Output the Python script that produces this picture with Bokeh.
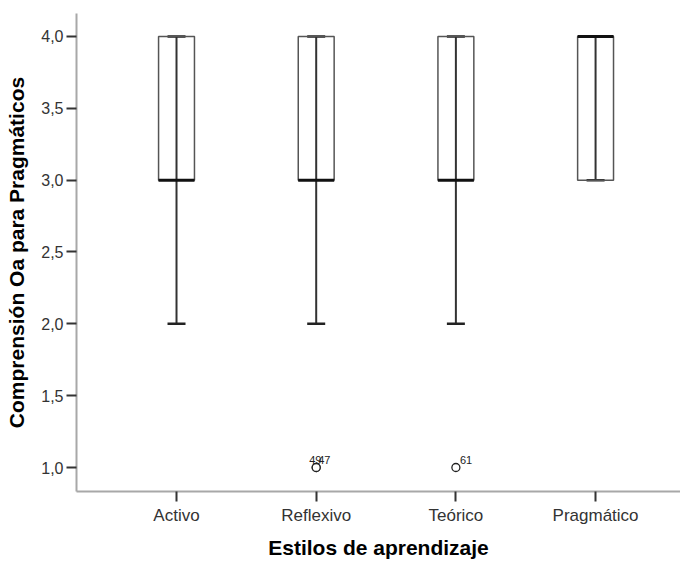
from bokeh.plotting import figure
from bokeh.models import (ColumnDataSource, Range1d, FixedTicker, CustomJSTickFormatter,
                          Whisker, TeeHead)
from bokeh.core.properties import value
from bokeh.embed import file_html
from bokeh.resources import INLINE

# ---- data ----
categories = ["Activo", "Reflexivo", "Teórico", "Pragmático"]
q1 = [3.0, 3.0, 3.0, 3.0]
median = [3.0, 3.0, 3.0, 4.0]
q3 = [4.0, 4.0, 4.0, 4.0]
whisker_low = [2.0, 2.0, 2.0, 3.0]
whisker_high = [4.0, 4.0, 4.0, 4.0]

outlier_category = ["Reflexivo", "Reflexivo", "Teórico"]
outlier_value = [1.0, 1.0, 1.0]
outlier_label = ["49", "47", "61"]

y_ticks = [1.0, 1.5, 2.0, 2.5, 3.0, 3.5, 4.0]

# ---- build ----
xpos = [categories.index(c) + 1 for c in categories]
src = ColumnDataSource(dict(x=xpos, q1=q1, med=median, q3=q3, lo=whisker_low, hi=whisker_high))

ox = [categories.index(c) + 1 for c in outlier_category]
# label offsets: SPSS spreads labels of coincident points
dx = []
for i, c in enumerate(outlier_category):
    n = outlier_category.count(c)
    k = outlier_category[:i].count(c)
    dx.append(4 if n == 1 else -7 + 9 * k)
osrc = ColumnDataSource(dict(x=ox, y=outlier_value, t=outlier_label, dx=dx))

FONT = "Liberation Sans"

p = figure(width=680, height=561, output_backend="svg", toolbar_location=None,
           x_range=Range1d(0.284, 4.608), y_range=Range1d(0.833, 4.16),
           min_border_left=76, min_border_right=0, min_border_top=13, min_border_bottom=70)
p.outline_line_color = None
p.xgrid.grid_line_color = None
p.ygrid.grid_line_color = None
p.background_fill_color = "white"
p.border_fill_color = "white"

# boxes
p.vbar(x="x", width=0.257, bottom="q1", top="q3", source=src,
       fill_color=None, line_color="#555555", line_width=1.5)

# whiskers (line through the box, with caps)
w = Whisker(base="x", lower="lo", upper="hi", source=src, dimension="height",
            line_color="#333333", line_width=2,
            lower_head=TeeHead(size=18, line_color="#222222", line_width=2.5),
            upper_head=TeeHead(size=18, line_color="#222222", line_width=2.5))
p.add_layout(w)

# medians
p.scatter(x="x", y="med", source=src, marker="dash", size=36,
          line_color="#111111", line_width=3)

# outliers
p.scatter(x="x", y="y", source=osrc, marker="circle", size=8,
          fill_color="white", line_color="#222222", line_width=1.3)
p.text(x="x", y="y", text="t", source=osrc, x_offset="dx", y_offset=-4,
       text_baseline="bottom", text_align="left", text_font=value(FONT),
       text_font_size="11px", text_color="#222222")

# axes
p.xaxis.ticker = FixedTicker(ticks=xpos)
p.xaxis.major_label_overrides = {i + 1: c for i, c in enumerate(categories)}
p.yaxis.ticker = FixedTicker(ticks=y_ticks)
p.yaxis.formatter = CustomJSTickFormatter(code="return tick.toFixed(1).replace('.', ',');")
p.xaxis.axis_label = "Estilos de aprendizaje"
p.yaxis.axis_label = "Comprensión Oa para Pragmáticos"

for ax in (p.xaxis, p.yaxis):
    ax.axis_line_color = "#a8a8a8"
    ax.axis_line_width = 2
    ax.major_tick_line_color = "#333333"
    ax.major_tick_line_width = 2
    ax.major_tick_out = 10
    ax.major_tick_in = 0
    ax.minor_tick_line_color = None
    ax.major_label_text_font = FONT
    ax.major_label_text_color = "#333333"
    ax.axis_label_text_font = FONT
    ax.axis_label_text_font_style = "bold"
    ax.axis_label_text_color = "black"
    ax.axis_label_text_font_size = "21px"

p.xaxis.major_label_text_font_size = "17px"
p.yaxis.major_label_text_font_size = "16px"
p.xaxis.major_label_standoff = 4
p.xaxis.axis_label_standoff = 8
p.yaxis.major_label_standoff = 3
p.yaxis.axis_label_standoff = 10

open("out.html", "w").write(file_html(p, INLINE))
